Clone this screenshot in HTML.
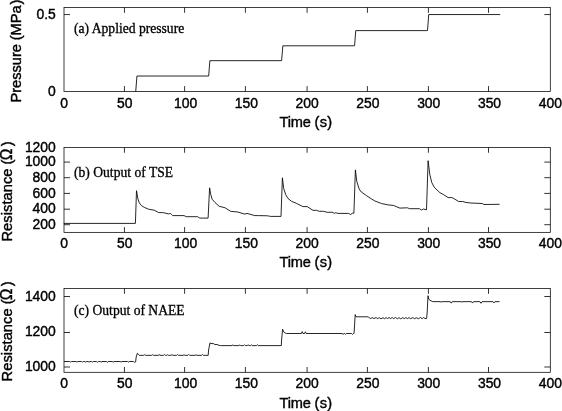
<!DOCTYPE html><html><head><meta charset="utf-8"><title>Figure</title><style>html,body{margin:0;padding:0;background:#fff;overflow:hidden}svg{display:block}</style></head><body><svg width="562" height="411" viewBox="0 0 562 411">
<rect width="562" height="411" fill="#fff"/>
<rect x="64" y="7.55" width="486.3" height="83.85" fill="none" stroke="#000" stroke-width="0.75"/>
<text transform="translate(64 107.5) scale(1 1.05)" text-anchor="middle" font-family="'Liberation Sans', sans-serif" stroke="#000" stroke-width="0.4" font-size="13.9">0</text>
<text transform="translate(124.79 107.5) scale(1 1.05)" text-anchor="middle" font-family="'Liberation Sans', sans-serif" stroke="#000" stroke-width="0.4" font-size="13.9">50</text>
<text transform="translate(185.57 107.5) scale(1 1.05)" text-anchor="middle" font-family="'Liberation Sans', sans-serif" stroke="#000" stroke-width="0.4" font-size="13.9">100</text>
<text transform="translate(246.36 107.5) scale(1 1.05)" text-anchor="middle" font-family="'Liberation Sans', sans-serif" stroke="#000" stroke-width="0.4" font-size="13.9">150</text>
<text transform="translate(307.15 107.5) scale(1 1.05)" text-anchor="middle" font-family="'Liberation Sans', sans-serif" stroke="#000" stroke-width="0.4" font-size="13.9">200</text>
<text transform="translate(367.94 107.5) scale(1 1.05)" text-anchor="middle" font-family="'Liberation Sans', sans-serif" stroke="#000" stroke-width="0.4" font-size="13.9">250</text>
<text transform="translate(428.73 107.5) scale(1 1.05)" text-anchor="middle" font-family="'Liberation Sans', sans-serif" stroke="#000" stroke-width="0.4" font-size="13.9">300</text>
<text transform="translate(489.51 107.5) scale(1 1.05)" text-anchor="middle" font-family="'Liberation Sans', sans-serif" stroke="#000" stroke-width="0.4" font-size="13.9">350</text>
<text transform="translate(550.3 107.5) scale(1 1.05)" text-anchor="middle" font-family="'Liberation Sans', sans-serif" stroke="#000" stroke-width="0.4" font-size="13.9">400</text>
<text transform="translate(55.8 19) scale(1 1.05)" text-anchor="end" font-family="'Liberation Sans', sans-serif" stroke="#000" stroke-width="0.4" font-size="13.9">0.5</text>
<text transform="translate(55.8 95.7) scale(1 1.05)" text-anchor="end" font-family="'Liberation Sans', sans-serif" stroke="#000" stroke-width="0.4" font-size="13.9">0</text>
<path d="M124.45 91.4v-5.3M124.45 7.55v5.3M184.6 91.4v-5.3M184.6 7.55v5.3M245.4 91.4v-5.3M245.4 7.55v5.3M307.1 91.4v-5.3M307.1 7.55v5.3M367.4 91.4v-5.3M367.4 7.55v5.3M428.4 91.4v-5.3M428.4 7.55v5.3M488.5 91.4v-5.3M488.5 7.55v5.3M64 14.55h6.0M550.3 14.55h-6.0" fill="none" stroke="#000" stroke-width="0.8"/>
<text transform="translate(306 126.6) scale(1 1.05)" text-anchor="middle" font-family="'Liberation Sans', sans-serif" stroke="#000" stroke-width="0.4" font-size="14.6"><tspan letter-spacing="-0.2">Time</tspan> <tspan letter-spacing="0.3">(s)</tspan></text>
<text transform="translate(21 102.5) rotate(-90) scale(1 1.05)" font-family="'Liberation Sans', sans-serif" stroke="#000" stroke-width="0.4" font-size="14.6">Pressure <tspan dx="-0.15">(MPa</tspan><tspan dx="1.0">)</tspan></text>
<text x="74" y="33.4" font-family="'Liberation Serif', serif" stroke="#000" stroke-width="0.3" font-size="13.6">(a) Applied pressure</text>
<rect x="64" y="147.45" width="486.3" height="84.9" fill="none" stroke="#000" stroke-width="0.75"/>
<text transform="translate(64 248.2) scale(1 1.05)" text-anchor="middle" font-family="'Liberation Sans', sans-serif" stroke="#000" stroke-width="0.4" font-size="13.9">0</text>
<text transform="translate(124.79 248.2) scale(1 1.05)" text-anchor="middle" font-family="'Liberation Sans', sans-serif" stroke="#000" stroke-width="0.4" font-size="13.9">50</text>
<text transform="translate(185.57 248.2) scale(1 1.05)" text-anchor="middle" font-family="'Liberation Sans', sans-serif" stroke="#000" stroke-width="0.4" font-size="13.9">100</text>
<text transform="translate(246.36 248.2) scale(1 1.05)" text-anchor="middle" font-family="'Liberation Sans', sans-serif" stroke="#000" stroke-width="0.4" font-size="13.9">150</text>
<text transform="translate(307.15 248.2) scale(1 1.05)" text-anchor="middle" font-family="'Liberation Sans', sans-serif" stroke="#000" stroke-width="0.4" font-size="13.9">200</text>
<text transform="translate(367.94 248.2) scale(1 1.05)" text-anchor="middle" font-family="'Liberation Sans', sans-serif" stroke="#000" stroke-width="0.4" font-size="13.9">250</text>
<text transform="translate(428.73 248.2) scale(1 1.05)" text-anchor="middle" font-family="'Liberation Sans', sans-serif" stroke="#000" stroke-width="0.4" font-size="13.9">300</text>
<text transform="translate(489.51 248.2) scale(1 1.05)" text-anchor="middle" font-family="'Liberation Sans', sans-serif" stroke="#000" stroke-width="0.4" font-size="13.9">350</text>
<text transform="translate(550.3 248.2) scale(1 1.05)" text-anchor="middle" font-family="'Liberation Sans', sans-serif" stroke="#000" stroke-width="0.4" font-size="13.9">400</text>
<text transform="translate(55.8 151.9) scale(1 1.05)" text-anchor="end" font-family="'Liberation Sans', sans-serif" stroke="#000" stroke-width="0.4" font-size="13.9">1200</text>
<text transform="translate(55.8 166) scale(1 1.05)" text-anchor="end" font-family="'Liberation Sans', sans-serif" stroke="#000" stroke-width="0.4" font-size="13.9">1000</text>
<text transform="translate(55.8 182.1) scale(1 1.05)" text-anchor="end" font-family="'Liberation Sans', sans-serif" stroke="#000" stroke-width="0.4" font-size="13.9">800</text>
<text transform="translate(55.8 197.8) scale(1 1.05)" text-anchor="end" font-family="'Liberation Sans', sans-serif" stroke="#000" stroke-width="0.4" font-size="13.9">600</text>
<text transform="translate(55.8 213.4) scale(1 1.05)" text-anchor="end" font-family="'Liberation Sans', sans-serif" stroke="#000" stroke-width="0.4" font-size="13.9">400</text>
<text transform="translate(55.8 228.8) scale(1 1.05)" text-anchor="end" font-family="'Liberation Sans', sans-serif" stroke="#000" stroke-width="0.4" font-size="13.9">200</text>
<path d="M124.45 232.35v-5.3M124.45 147.45v5.3M184.6 232.35v-5.3M184.6 147.45v5.3M245.4 232.35v-5.3M245.4 147.45v5.3M307.1 232.35v-5.3M307.1 147.45v5.3M367.4 232.35v-5.3M367.4 147.45v5.3M428.4 232.35v-5.3M428.4 147.45v5.3M488.5 232.35v-5.3M488.5 147.45v5.3M64 162.1h6.0M550.3 162.1h-6.0M64 177.7h6.0M550.3 177.7h-6.0M64 193.4h6.0M550.3 193.4h-6.0M64 209.2h6.0M550.3 209.2h-6.0M64 224.7h6.0M550.3 224.7h-6.0" fill="none" stroke="#000" stroke-width="0.8"/>
<text transform="translate(306 267.3) scale(1 1.05)" text-anchor="middle" font-family="'Liberation Sans', sans-serif" stroke="#000" stroke-width="0.4" font-size="14.6"><tspan letter-spacing="-0.2">Time</tspan> <tspan letter-spacing="0.3">(s)</tspan></text>
<text transform="translate(11.9 241.5) rotate(-90) scale(1 1.05)" font-family="'Liberation Sans', sans-serif" stroke="#000" stroke-width="0.4" font-size="14.6"><tspan letter-spacing="0.09">Resistance</tspan> (<tspan dx="-0.7" font-size="15.6">Ω</tspan><tspan dx="2.3">)</tspan></text>
<text x="74" y="177.0" font-family="'Liberation Serif', serif" stroke="#000" stroke-width="0.3" font-size="13.6">(b) Output of TSE</text>
<rect x="64" y="288.55" width="486.3" height="83.75" fill="none" stroke="#000" stroke-width="0.75"/>
<text transform="translate(64 388.4) scale(1 1.05)" text-anchor="middle" font-family="'Liberation Sans', sans-serif" stroke="#000" stroke-width="0.4" font-size="13.9">0</text>
<text transform="translate(124.79 388.4) scale(1 1.05)" text-anchor="middle" font-family="'Liberation Sans', sans-serif" stroke="#000" stroke-width="0.4" font-size="13.9">50</text>
<text transform="translate(185.57 388.4) scale(1 1.05)" text-anchor="middle" font-family="'Liberation Sans', sans-serif" stroke="#000" stroke-width="0.4" font-size="13.9">100</text>
<text transform="translate(246.36 388.4) scale(1 1.05)" text-anchor="middle" font-family="'Liberation Sans', sans-serif" stroke="#000" stroke-width="0.4" font-size="13.9">150</text>
<text transform="translate(307.15 388.4) scale(1 1.05)" text-anchor="middle" font-family="'Liberation Sans', sans-serif" stroke="#000" stroke-width="0.4" font-size="13.9">200</text>
<text transform="translate(367.94 388.4) scale(1 1.05)" text-anchor="middle" font-family="'Liberation Sans', sans-serif" stroke="#000" stroke-width="0.4" font-size="13.9">250</text>
<text transform="translate(428.73 388.4) scale(1 1.05)" text-anchor="middle" font-family="'Liberation Sans', sans-serif" stroke="#000" stroke-width="0.4" font-size="13.9">300</text>
<text transform="translate(489.51 388.4) scale(1 1.05)" text-anchor="middle" font-family="'Liberation Sans', sans-serif" stroke="#000" stroke-width="0.4" font-size="13.9">350</text>
<text transform="translate(550.3 388.4) scale(1 1.05)" text-anchor="middle" font-family="'Liberation Sans', sans-serif" stroke="#000" stroke-width="0.4" font-size="13.9">400</text>
<text transform="translate(55.8 301) scale(1 1.05)" text-anchor="end" font-family="'Liberation Sans', sans-serif" stroke="#000" stroke-width="0.4" font-size="13.9">1400</text>
<text transform="translate(55.8 336.3) scale(1 1.05)" text-anchor="end" font-family="'Liberation Sans', sans-serif" stroke="#000" stroke-width="0.4" font-size="13.9">1200</text>
<text transform="translate(55.8 371.1) scale(1 1.05)" text-anchor="end" font-family="'Liberation Sans', sans-serif" stroke="#000" stroke-width="0.4" font-size="13.9">1000</text>
<path d="M124.45 372.3v-5.3M124.45 288.55v5.3M184.6 372.3v-5.3M184.6 288.55v5.3M245.4 372.3v-5.3M245.4 288.55v5.3M307.1 372.3v-5.3M307.1 288.55v5.3M367.4 372.3v-5.3M367.4 288.55v5.3M428.4 372.3v-5.3M428.4 288.55v5.3M488.5 372.3v-5.3M488.5 288.55v5.3M64 296.5h6.0M550.3 296.5h-6.0M64 332.5h6.0M550.3 332.5h-6.0M64 367h6.0M550.3 367h-6.0" fill="none" stroke="#000" stroke-width="0.8"/>
<text transform="translate(306 407.5) scale(1 1.05)" text-anchor="middle" font-family="'Liberation Sans', sans-serif" stroke="#000" stroke-width="0.4" font-size="14.6"><tspan letter-spacing="-0.2">Time</tspan> <tspan letter-spacing="0.3">(s)</tspan></text>
<text transform="translate(11.9 381.4) rotate(-90) scale(1 1.05)" font-family="'Liberation Sans', sans-serif" stroke="#000" stroke-width="0.4" font-size="14.6"><tspan letter-spacing="0.09">Resistance</tspan> (<tspan dx="-0.7" font-size="15.6">Ω</tspan><tspan dx="2.3">)</tspan></text>
<text x="74" y="315.3" font-family="'Liberation Serif', serif" stroke="#000" stroke-width="0.3" font-size="13.6">(c) Output of NAEE</text>
<path d="M135.73 91.4 L136.94 76.03 L208.67 76.03 L209.89 60.66 L281.62 60.66 L282.83 45.8 L354.56 45.8 L355.78 30.6 L427.51 30.6 L428.73 14.55 L500.21 14.55" fill="none" stroke="#000" stroke-width="0.85" stroke-linejoin="round"/>
<path d="M63.8 223.4 L135.4 223.4 L136.5 190.7 L137.8 198.5 L139.3 202.8 L141.4 205.6 L144.2 207.3 L148.5 209.2 L154.2 210.2 L158.5 212.5 L163.5 212.7 L168.4 213.9 L170.6 213.5 L172.7 215.6 L184.1 215.6 L186.2 216.7 L197.6 216.7 L199.8 218.1 L208.1 218.1 L209.6 187.8 L210.7 194.2 L212.1 199.2 L215 202.5 L219.2 206.3 L224.9 207.7 L230.6 211.3 L237.7 212 L244.9 214.1 L247 213.4 L254.8 215.6 L258.4 215.6 L267.6 215.8 L270.5 216.4 L281 216.4 L282.4 177.8 L283.7 188.5 L285.8 194.9 L288 198.5 L291.5 201.3 L296.5 203.4 L302.9 206.6 L307.2 206.6 L312.9 210.3 L316.4 210.3 L319.3 211.3 L323.6 211.3 L327.1 212.3 L332.8 212.3 L334.2 213.4 L335.7 212.7 L337.8 213.4 L348.5 213.4 L350.6 214.5 L352.3 213.3 L353.9 213.2 L355.4 169.9 L356.8 181.4 L359.1 188.9 L361.3 192 L366.6 195.7 L371.1 198.7 L374.9 201 L381.7 203.6 L387.7 204.8 L393.7 205.5 L399.8 208.1 L407.3 207.8 L409.6 208.7 L419.4 208.7 L421.7 210.1 L423.4 209 L426.5 209.8 L428.1 160.7 L429.8 174.5 L431.8 182.6 L434.2 187.2 L439.9 192.7 L443.2 194.4 L448.1 197.6 L452.2 197.6 L458.7 201.5 L462.8 201.5 L466 202.5 L470.9 203 L482.3 203.5 L484 204.5 L499.6 204.3" fill="none" stroke="#000" stroke-width="0.85" stroke-linejoin="round"/>
<path d="M64 361.5 L69.72 361.5 L70.62 362.11 L71.52 361.5 L75.97 361.5 L76.87 362.08 L77.77 361.5 L81.65 361.5 L82.55 362.18 L83.45 361.5 L84.94 361.5 L85.84 362.22 L86.74 361.5 L88.13 361.5 L89.03 362.2 L89.93 361.5 L91.48 361.5 L92.38 362.09 L93.28 361.5 L96.6 361.5 L97.5 362.32 L98.4 361.5 L100.22 361.5 L101.12 362.13 L102.02 361.5 L106.36 361.5 L107.26 362.36 L108.16 361.5 L112.24 361.5 L113.14 362.19 L114.04 361.5 L120.13 361.5 L121.03 362.07 L121.93 361.5 L127.42 361.5 L128.32 362.15 L129.22 361.5 L133.4 361.5 L134.5 362.3 L135.6 361.9 L136.2 357 L137.4 353.2 L138.3 354.3 L139.2 355.35 L143.81 355.35 L144.71 354.61 L145.61 355.35 L151.7 355.35 L152.6 354.65 L153.5 355.35 L158.19 355.35 L159.09 354.49 L159.99 355.35 L163.43 355.35 L164.33 354.52 L165.23 355.35 L166.8 355.35 L167.7 354.7 L168.6 355.35 L171.04 355.35 L171.94 354.48 L172.84 355.35 L176.61 355.35 L177.51 354.61 L178.41 355.35 L183.12 355.35 L184.02 354.56 L184.92 355.35 L187.92 355.35 L188.82 354.43 L189.72 355.35 L195.11 355.35 L196.01 354.63 L196.91 355.35 L201.56 355.35 L202.46 354.53 L203.36 355.35 L208.2 355.35 L208.6 350 L210 342.8 L211 343.5 L213.5 343.6 L215 344.6 L217 344.4 L219 345.4 L220.7 345.6 L232.02 345.6 L232.92 344.87 L233.82 345.6 L238.94 345.6 L239.84 344.93 L240.74 345.6 L243.61 345.6 L244.51 344.7 L245.41 345.6 L247.22 345.6 L248.12 344.79 L249.02 345.6 L250.38 345.6 L251.28 344.73 L252.18 345.6 L256.43 345.6 L257.33 344.76 L258.23 345.6 L281.3 345.6 L281.6 340 L282.6 329.2 L283.6 331.8 L285.8 333.4 L286.5 333.5 L301.4 333.5 L302.2 331.6 L303 333.5 L304.6 333.5 L305.4 331.8 L306.2 333.5 L342 333.5 L343 334.4 L344 333.5 L344.7 333.5 L345.5 334.2 L346.3 333.5 L351.5 333.5 L352.5 334.4 L353.5 333.5 L354 333.5 L354.4 328 L355.2 314.6 L356 316.8 L368.3 316.8 L369.5 318.1 L370.3 318.59 L372.19 317.61 L373.99 318.64 L375.98 317.51 L377.71 318.71 L379.15 317.58 L381.01 318.81 L382.98 317.69 L384.65 318.71 L386.07 317.64 L387.59 318.53 L389.03 317.56 L390.52 318.57 L392.19 317.53 L393.65 318.64 L395.43 317.53 L397.41 318.77 L399 317.66 L400.65 318.78 L402.72 317.73 L404.25 318.57 L405.81 317.64 L407.62 318.58 L409.03 317.65 L410.68 318.67 L412.75 317.58 L414.51 318.69 L416.38 317.76 L418.41 318.74 L420.43 317.55 L422.1 318.62 L423.57 317.6 L425.02 318.51 L426.6 318.6 L427.2 312 L428 295.7 L428.8 299.2 L430 300.3 L432.7 301.6 L433 301.65 L440 301.65 L441 302.05 L442 301.65 L450.2 301.65 L451.2 303.15 L452.2 301.65 L461 301.65 L462 302.05 L463 301.65 L471.5 301.65 L472.5 303.05 L473.5 301.65 L479.9 301.65 L481 303.25 L482.1 301.65 L492.9 301.65 L493.9 302.95 L494.9 301.65 L499.6 301.65" fill="none" stroke="#000" stroke-width="0.85" stroke-linejoin="round"/>
</svg></body></html>
